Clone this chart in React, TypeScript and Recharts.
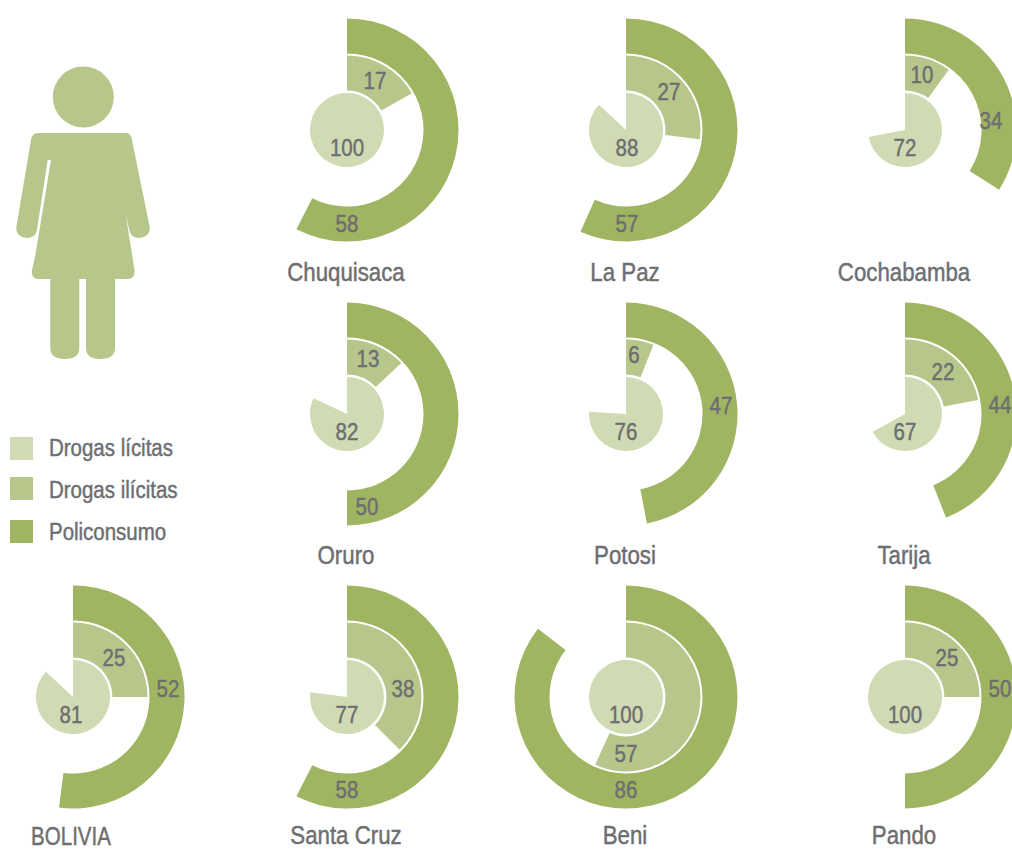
import { Cell, Pie, PieChart } from "recharts";

const REGIONS = [
  "Chuquisaca",
  "La Paz",
  "Cochabamba",
  "Oruro",
  "Potosi",
  "Tarija",
  "BOLIVIA",
  "Santa Cruz",
  "Beni",
  "Pando",
];
// printed numbers
const LICITAS = [100, 88, 72, 82, 76, 67, 81, 77, 100, 100];
const ILICITAS = [17, 27, 10, 13, 6, 22, 25, 38, 57, 25];
const POLICONSUMO = [58, 57, 34, 50, 47, 44, 52, 58, 86, 50];
// the wedges as the original drew them; they don't always agree with the number (Bolivia 81 is drawn ~87)
const LICITAS_ARC = [100, 87, 72, 82, 76, 67, 87, 77, 100, 100];
const ILICITAS_ARC = [16.8, 27, 10, 13, 6, 22, 25, 37.5, 56.8, 25];
const POLICONSUMO_ARC = [57.5, 56.7, 34, 50, 47, 44, 52, 57.5, 85.5, 50];
const LEGEND_LABELS = ["Drogas lícitas", "Drogas ilícitas", "Policonsumo"];

const COLOURS = ["#d0dab3", "#b7c68a", "#9fb561"];
const TEXT = "#6d6e71";
const FONT = '"Liberation Sans", Arial, sans-serif';

// centre of each donut on the page
const CENTRES = [
  [347, 130],
  [626, 130],
  [905, 130],
  [347, 414],
  [626, 414],
  [905, 414],
  [73, 697],
  [347, 697],
  [626, 697],
  [905, 697],
];
const NAME_Y = [273, 556, 836];

// number placement relative to the centre, picked by hand in the original
const LICITAS_OFFSET = [
  [0, 18],
  [1, 18],
  [0, 18],
  [0, 18],
  [0, 18],
  [0, 18],
  [-2, 18],
  [0, 18],
  [0, 18],
  [0, 18],
];
const ILICITAS_OFFSET = [
  [28, -49],
  [43, -38],
  [17, -55],
  [21, -55],
  [8, -59],
  [38, -42],
  [41, -39],
  [56, -8],
  [0, 57],
  [42, -39],
];
const POLI_OFFSET = [
  [0, 94],
  [1, 94],
  [86, -9],
  [20, 93],
  [95, -8],
  [95, -9],
  [95, -8],
  [0, 93],
  [0, 93],
  [95, -8],
];

const RINGS = [
  { arcs: LICITAS_ARC, labels: LICITAS, offsets: LICITAS_OFFSET, inner: 0, outer: 37 },
  { arcs: ILICITAS_ARC, labels: ILICITAS, offsets: ILICITAS_OFFSET, inner: 39.5, outer: 74.5 },
  { arcs: POLICONSUMO_ARC, labels: POLICONSUMO, offsets: POLI_OFFSET, inner: 76.5, outer: 111.5 },
];

// Helvetica condensed look: squeeze Liberation Sans horizontally
function Txt({
  x,
  y,
  size,
  anchor = "middle",
  squeeze = 0.89,
  children,
}: {
  x: number;
  y: number;
  size: number;
  anchor?: "middle" | "start";
  squeeze?: number;
  children: React.ReactNode;
}) {
  return (
    <text
      transform={`translate(${x} ${y}) scale(${squeeze} 1)`}
      textAnchor={anchor}
      dominantBaseline="central"
      fontFamily={FONT}
      fontSize={size}
      fill={TEXT}
      stroke={TEXT}
      strokeWidth={0.45}
    >
      {children}
    </text>
  );
}

function Woman() {
  return (
    <g fill={COLOURS[1]}>
      <circle cx={83.3} cy={97} r={30.5} />
      <path d="M38 133 L126 133 Q131 133 132 140 L149.7 227 Q150.5 237 139 238 Q131 238 129.3 230 L113 160 L117 160 L134.5 270 Q135 279 128 279 L115 279 L115 348 Q115 359 100 359 Q86 359 86 348 L86 279 L79.3 279 L79.3 348 Q79.3 359 65 359 Q50.3 359 50.3 348 L50.3 279 L38 279 Q31 279 32 270 L35 257 L51 160 L47.7 160 L37 230 Q35 238 27 238 Q15.5 237 16.3 227 L31 140 Q32 133 38 133 Z" />
    </g>
  );
}

function LegendBlock() {
  return (
    <g>
      {LEGEND_LABELS.map((label, i) => (
        <g key={label}>
          <rect
            x={10}
            y={[437, 477, 520][i]}
            width={23}
            height={23}
            fill={COLOURS[i]}
          />
          <Txt x={49} y={[448, 490, 532][i]} size={23} anchor="start">
            {label}
          </Txt>
        </g>
      ))}
    </g>
  );
}

export default function App() {
  return (
    <div
      style={{
        position: "absolute",
        left: 0,
        top: 0,
        width: 1012,
        height: 850,
        overflow: "hidden",
        background: "#fff",
      }}
    >
      <PieChart
        width={1100}
        height={850}
        margin={{ top: 0, right: 0, bottom: 0, left: 0 }}
      >
        {REGIONS.flatMap((region, r) =>
          RINGS.map((ring, k) => {
            const [cx, cy] = CENTRES[r];
            const v = ring.arcs[r];
            const [dx, dy] = ring.offsets[r];
            return (
              <Pie
                key={`${region}-${k}`}
                data={[
                  { name: region, value: v },
                  { name: "rest", value: 100 - v },
                ]}
                dataKey="value"
                cx={cx}
                cy={cy}
                innerRadius={ring.inner}
                outerRadius={ring.outer}
                startAngle={90}
                endAngle={-270}
                stroke="none"
                isAnimationActive={false}
                labelLine={false}
                label={(p: { index: number }) =>
                  p.index === 0 ? (
                    <Txt x={cx + dx} y={cy + dy} size={23}>
                      {ring.labels[r]}
                    </Txt>
                  ) : (
                    <g />
                  )
                }
              >
                <Cell fill={COLOURS[k]} />
                <Cell fill="transparent" />
              </Pie>
            );
          }),
        )}
        {REGIONS.map((region, r) => (
          <Txt
            key={region}
            x={CENTRES[r][0] - (region === "BOLIVIA" ? 2 : 1)}
            y={NAME_Y[Math.min(Math.floor(r / 3), 2)]}
            size={25}
            squeeze={region === "BOLIVIA" ? 0.82 : 0.89}
          >
            {region}
          </Txt>
        ))}
        <Woman />
        <LegendBlock />
      </PieChart>
    </div>
  );
}
